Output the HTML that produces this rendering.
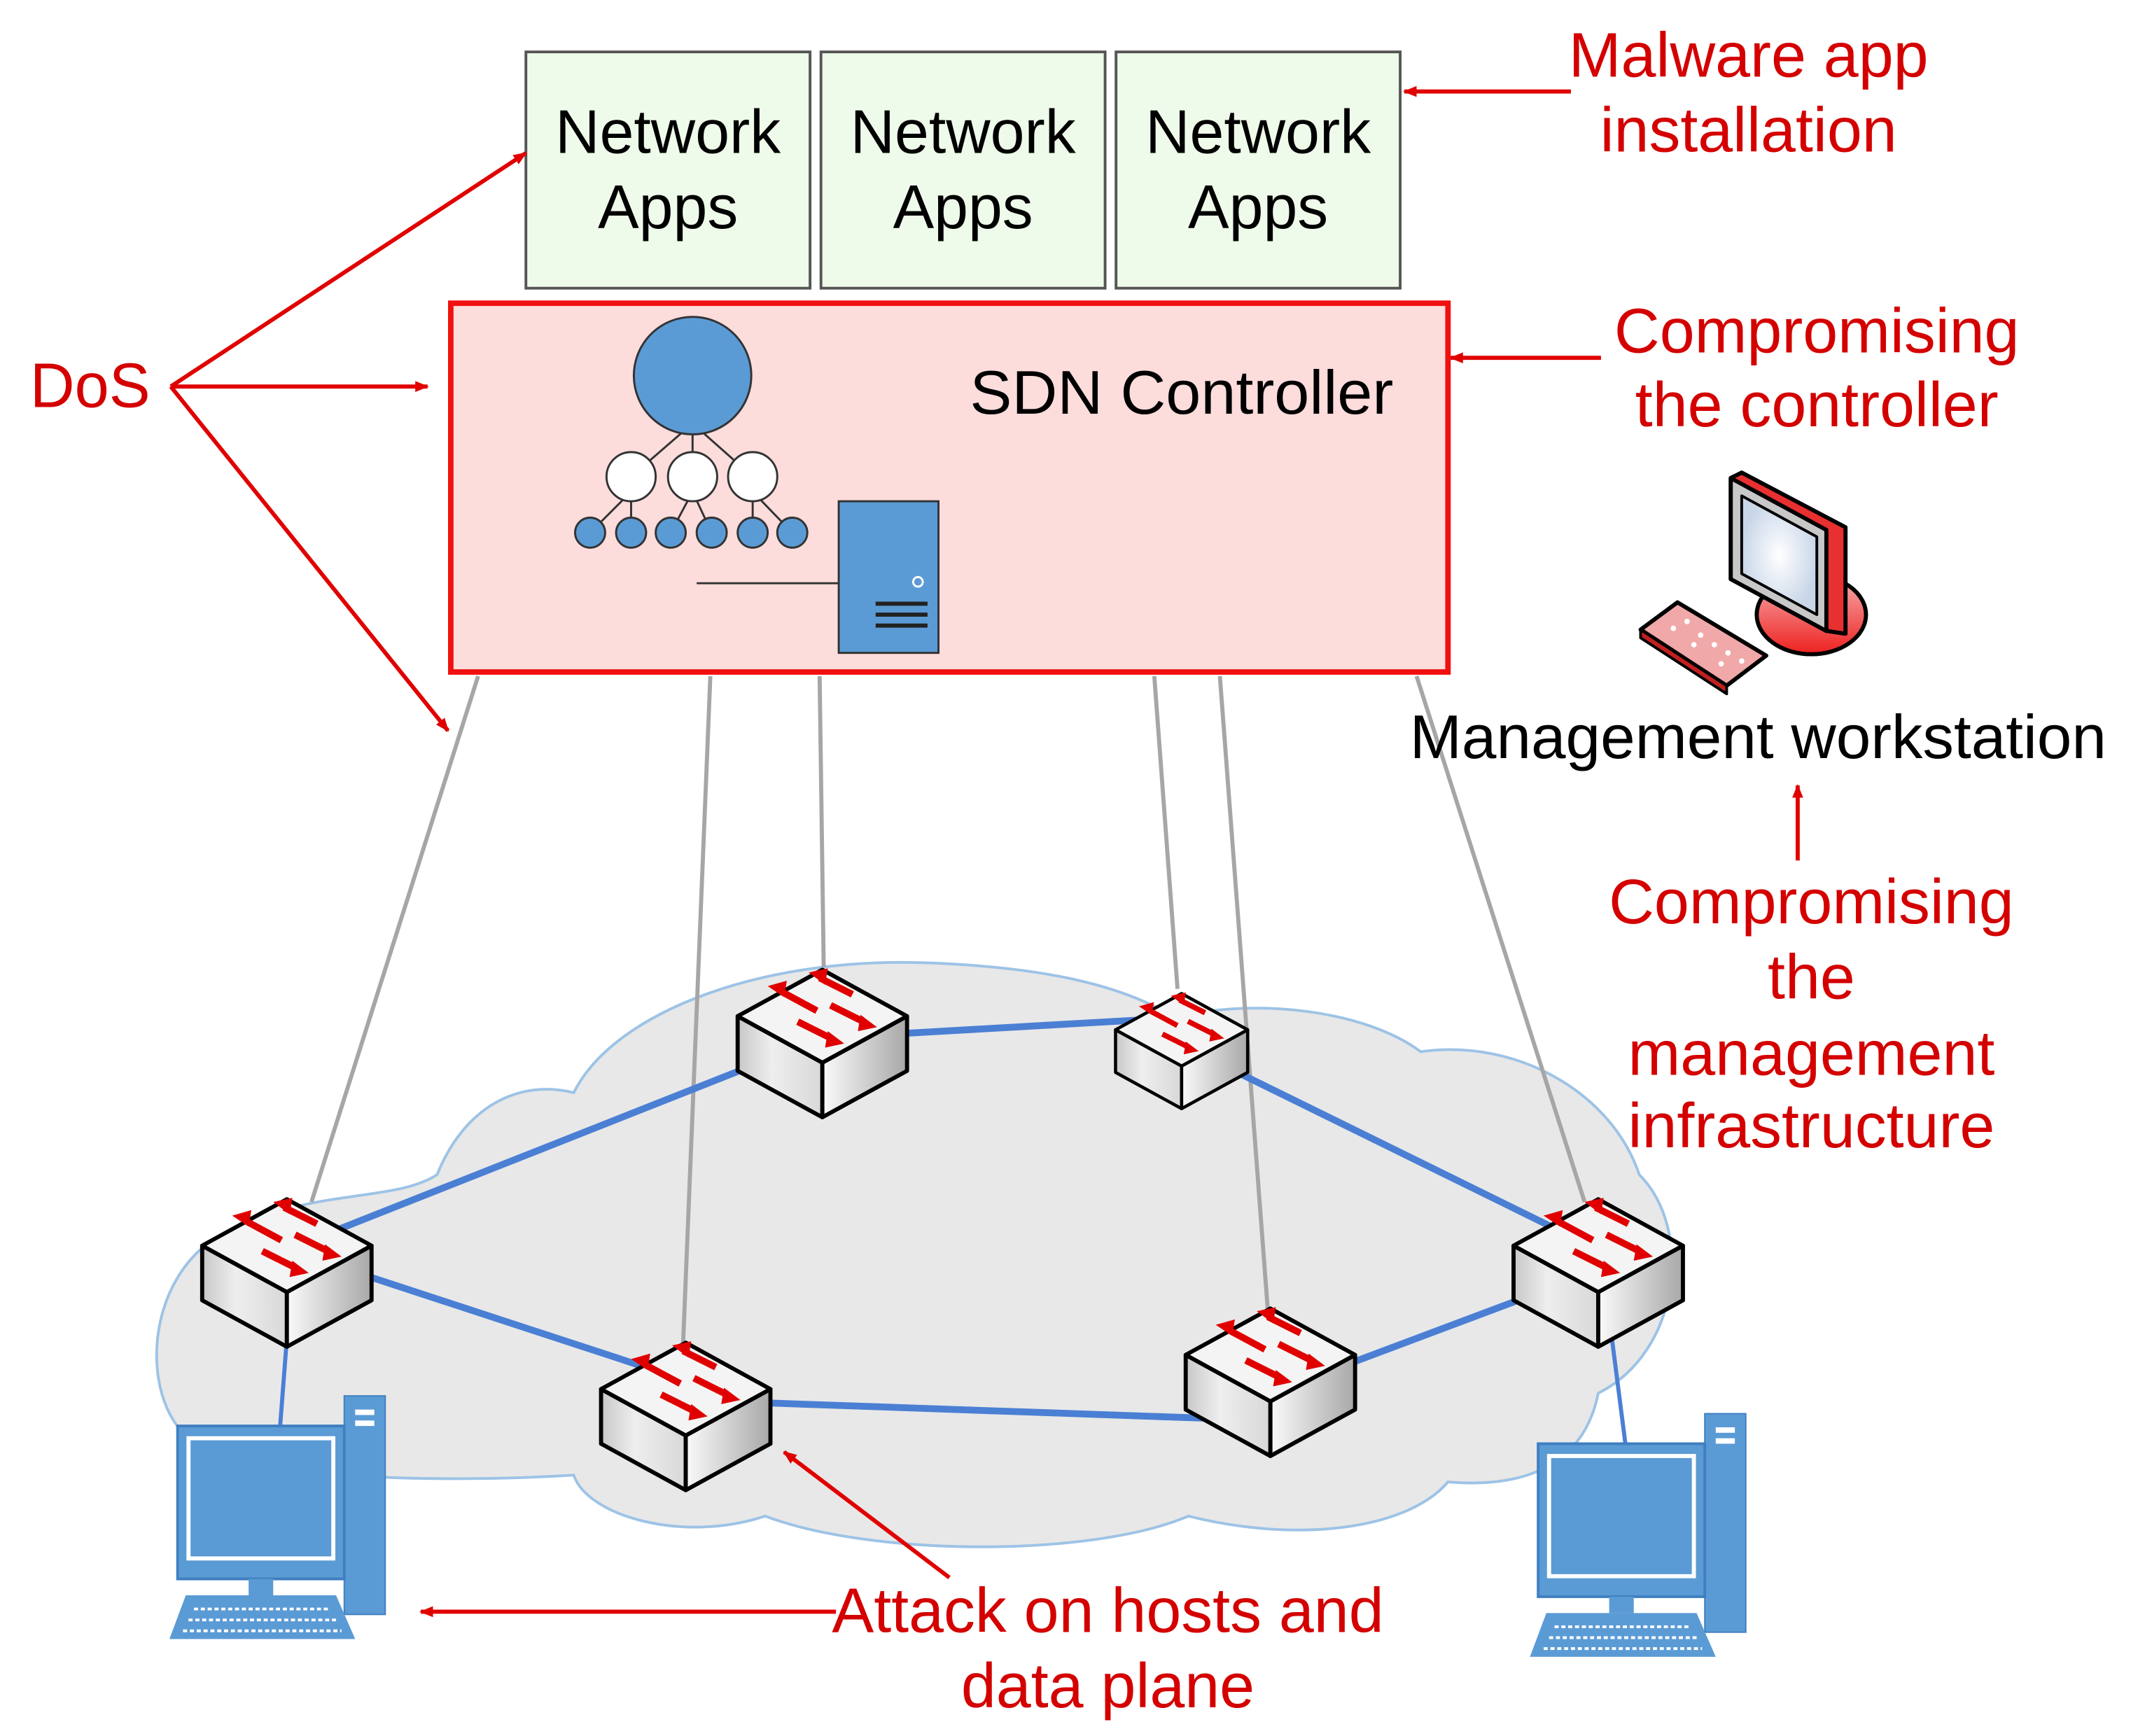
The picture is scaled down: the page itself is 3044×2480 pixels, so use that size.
<!DOCTYPE html>
<html><head><meta charset="utf-8"><style>
html,body{margin:0;padding:0;background:#fff;}
svg{display:block;}
text{font-family:"Liberation Sans",Arial,sans-serif;}
</style></head><body>
<svg width="3044" height="2480" viewBox="0 0 1560 1271" preserveAspectRatio="none" xmlns="http://www.w3.org/2000/svg">
<defs>
<marker id="ar" markerWidth="10" markerHeight="10" refX="9" refY="5" orient="auto" markerUnits="userSpaceOnUse" viewBox="0 0 10 10">
<path d="M0,1 L10,5 L0,9 z" fill="#e00000"/></marker>
<linearGradient id="sf" x1="0" y1="0" x2="1" y2="0"><stop offset="0" stop-color="#c8c8c8"/><stop offset="0.4" stop-color="#eee"/><stop offset="1" stop-color="#d8d8d8"/></linearGradient>
<linearGradient id="sr" x1="0" y1="0" x2="1" y2="0"><stop offset="0" stop-color="#fafafa"/><stop offset="1" stop-color="#a8a8a8"/></linearGradient>
<radialGradient id="scr"><stop offset="0" stop-color="#fff"/><stop offset="1" stop-color="#c9d6e8"/></radialGradient>
<linearGradient id="rb" x1="0" y1="0" x2="0" y2="1"><stop offset="0" stop-color="#f7b0b0"/><stop offset="1" stop-color="#ee2020"/></linearGradient>
<g id="sw">
<path d="M-62,-18 L0,16 L0,56 L-62,22 z" fill="url(#sf)" stroke="#000" stroke-width="3" stroke-linejoin="round"/>
<path d="M62,-18 L0,16 L0,56 L62,22 z" fill="url(#sr)" stroke="#000" stroke-width="3" stroke-linejoin="round"/>
<path d="M0,-52 L62,-18 L0,16 L-62,-18 z" fill="#f4f4f4" stroke="#000" stroke-width="3" stroke-linejoin="round"/>
<g stroke="#e00000" stroke-width="5" fill="#e00000">
<line x1="-4" y1="-22" x2="-30" y2="-36"/><path d="M-40,-40 L-26,-44 L-28,-32 z" stroke="none"/>
<line x1="22" y1="-34" x2="-2" y2="-46"/><path d="M-10,-50 L4,-53 L2,-41 z" stroke="none"/>
<line x1="6" y1="-26" x2="30" y2="-14"/><path d="M40,-10 L26,-7 L28,-19 z" stroke="none"/>
<line x1="-18" y1="-14" x2="6" y2="-2"/><path d="M16,2 L2,5 L4,-7 z" stroke="none"/>
</g>
</g>
<g id="pc">
<rect x="128" y="0" width="30" height="160" fill="#5b9bd5" stroke="#3f7fc0" stroke-width="1"/>
<rect x="136" y="10" width="14" height="4" fill="#fff"/><rect x="136" y="18" width="14" height="4" fill="#fff"/>
<rect x="6" y="22" width="122" height="112" fill="#5b9bd5" stroke="#3f7fc0" stroke-width="2"/>
<rect x="14" y="31" width="106" height="88" fill="#5b9bd5" stroke="#fff" stroke-width="3"/>
<rect x="58" y="134" width="18" height="12" fill="#5b9bd5"/>
<path d="M12,146 L122,146 L136,178 L0,178 z" fill="#5b9bd5"/>
<g stroke="#fff" stroke-width="2" stroke-dasharray="3 2"><line x1="18" y1="156" x2="118" y2="156"/><line x1="14" y1="164" x2="122" y2="164"/><line x1="10" y1="172" x2="126" y2="172"/></g>
</g>
</defs>

<!-- App boxes -->
<g fill="#effbea" stroke="#555" stroke-width="2">
<rect x="385" y="38" width="208" height="173"/>
<rect x="601" y="38" width="208" height="173"/>
<rect x="817" y="38" width="208" height="173"/>
</g>
<g font-size="45" text-anchor="middle" fill="#000">
<text x="489" y="112">Network</text><text x="489" y="167">Apps</text>
<text x="705" y="112">Network</text><text x="705" y="167">Apps</text>
<text x="921" y="112">Network</text><text x="921" y="167">Apps</text>
</g>

<!-- Controller -->
<rect x="330" y="222" width="730" height="270" fill="#fddcdc" stroke="#f01010" stroke-width="4"/>
<text x="710" y="303" font-size="45" fill="#000" textLength="310" lengthAdjust="spacingAndGlyphs">SDN Controller</text>
<g stroke="#333" stroke-width="1.5">
<line x1="507" y1="310" x2="462" y2="349"/><line x1="507" y1="310" x2="507" y2="349"/><line x1="507" y1="310" x2="551" y2="349"/>
<line x1="462" y1="360" x2="432" y2="390"/><line x1="462" y1="360" x2="462" y2="390"/>
<line x1="507" y1="360" x2="491" y2="390"/><line x1="507" y1="360" x2="521" y2="390"/>
<line x1="551" y1="360" x2="551" y2="390"/><line x1="551" y1="360" x2="580" y2="390"/>
<circle cx="507" cy="275" r="43" fill="#5b9bd5"/>
<circle cx="462" cy="349" r="18" fill="#fff"/><circle cx="507" cy="349" r="18" fill="#fff"/><circle cx="551" cy="349" r="18" fill="#fff"/>
<g fill="#5b9bd5"><circle cx="432" cy="390" r="11"/><circle cx="462" cy="390" r="11"/><circle cx="491" cy="390" r="11"/><circle cx="521" cy="390" r="11"/><circle cx="551" cy="390" r="11"/><circle cx="580" cy="390" r="11"/></g>
<line x1="510" y1="427" x2="614" y2="427"/>
<rect x="614" y="367" width="73" height="111" fill="#5b9bd5"/>
</g>
<circle cx="672" cy="426" r="3.5" fill="none" stroke="#fff" stroke-width="1.5"/>
<g stroke="#222" stroke-width="3"><line x1="641" y1="442" x2="679" y2="442"/><line x1="641" y1="450" x2="679" y2="450"/><line x1="641" y1="458" x2="679" y2="458"/></g>

<!-- Cloud -->
<path d="M150,1060 C100,1040 100,930 170,900 C230,870 290,880 320,860 C340,810 380,790 420,800 C450,740 560,700 680,705 C760,708 820,720 860,745 C920,730 1000,740 1040,770 C1110,760 1180,800 1200,860 C1240,900 1230,990 1170,1020 C1160,1070 1120,1090 1060,1085 C1030,1120 950,1130 870,1110 C800,1140 640,1140 560,1110 C500,1130 430,1110 420,1080 C340,1085 200,1085 150,1060 z" fill="#e8e8e8" stroke="#9dc3e6" stroke-width="2"/>

<!-- gray controller links -->
<g stroke="#a6a6a6" stroke-width="3">
<line x1="350" y1="495" x2="228" y2="880"/>
<line x1="520" y1="495" x2="500" y2="985"/>
<line x1="600" y1="495" x2="603" y2="708"/>
<line x1="845" y1="495" x2="862" y2="724"/>
<line x1="893" y1="495" x2="928" y2="958"/>
<line x1="1037" y1="495" x2="1160" y2="880"/>
</g>

<!-- blue links -->
<g stroke="#4a7fd4" stroke-width="5">
<line x1="210" y1="915" x2="602" y2="760"/>
<line x1="602" y1="760" x2="865" y2="745"/>
<line x1="865" y1="765" x2="1170" y2="915"/>
<line x1="1170" y1="930" x2="930" y2="1020"/>
<line x1="930" y1="1040" x2="500" y2="1025"/>
<line x1="500" y1="1010" x2="210" y2="915"/>
</g>
<g stroke="#4a7fd4" stroke-width="3">
<line x1="210" y1="980" x2="205" y2="1045"/>
<line x1="1180" y1="980" x2="1190" y2="1058"/>
</g>

<!-- switches -->
<use href="#sw" transform="translate(210,930)"/>
<use href="#sw" transform="translate(602,762)"/>
<use href="#sw" transform="translate(865,768) scale(0.78)"/>
<use href="#sw" transform="translate(1170,930)"/>
<use href="#sw" transform="translate(502,1035)"/>
<use href="#sw" transform="translate(930,1010)"/>

<!-- PCs -->
<use href="#pc" transform="translate(124,1022)"/>
<use href="#pc" transform="translate(1120,1035)"/>

<!-- Management workstation -->
<g stroke="#000" stroke-width="3" stroke-linejoin="round">
<ellipse cx="1326" cy="450" rx="40" ry="29" fill="url(#rb)"/>
<path d="M1267,350 L1275,346 L1351,386 L1351,464 L1338,462 L1267,424 z" fill="#e83030"/>
<path d="M1267,350 L1337,388 L1337,462 L1267,424 z" fill="#c8c8c8"/>
<path d="M1275,363 L1330,393 L1330,450 L1275,420 z" fill="url(#scr)" stroke-width="2"/>
<path d="M1201,461 L1228,441 L1293,480 L1264,502 z" fill="#f0a8a8"/>
<path d="M1201,461 L1264,502 L1264,508 L1201,467 z" fill="#c02020" stroke-width="2"/>
</g>
<g fill="#fff"><circle cx="1225" cy="460" r="2"/><circle cx="1235" cy="455" r="2"/><circle cx="1245" cy="465" r="2"/><circle cx="1255" cy="472" r="2"/><circle cx="1265" cy="478" r="2"/><circle cx="1275" cy="484" r="2"/><circle cx="1240" cy="472" r="2"/><circle cx="1260" cy="486" r="2"/></g>
<text x="1032" y="555" font-size="45" fill="#000" textLength="510" lengthAdjust="spacingAndGlyphs">Management workstation</text>

<!-- red annotations -->
<g fill="#d40000" font-size="46">
<text x="22" y="298" textLength="88" lengthAdjust="spacingAndGlyphs">DoS</text>
<g text-anchor="middle">
<text x="1280" y="56">Malware app</text><text x="1280" y="111">installation</text>
<text x="1330" y="258">Compromising</text><text x="1330" y="312">the controller</text>
<text x="1326" y="676">Compromising</text><text x="1326" y="731">the</text><text x="1326" y="787">management</text><text x="1326" y="840">infrastructure</text>
<text x="811" y="1195">Attack on hosts and</text><text x="811" y="1250">data plane</text>
</g>
</g>
<g stroke="#e00000" stroke-width="3" fill="none" marker-end="url(#ar)">
<line x1="125" y1="283" x2="385" y2="112"/>
<line x1="125" y1="283" x2="313" y2="283"/>
<line x1="125" y1="283" x2="328" y2="535"/>
<line x1="1150" y1="67" x2="1028" y2="67"/>
<line x1="1172" y1="262" x2="1062" y2="262"/>
<line x1="1316" y1="630" x2="1316" y2="575"/>
<line x1="612" y1="1180" x2="308" y2="1180"/>
<line x1="695" y1="1155" x2="574" y2="1063"/>
</g>
</svg>
</body></html>
